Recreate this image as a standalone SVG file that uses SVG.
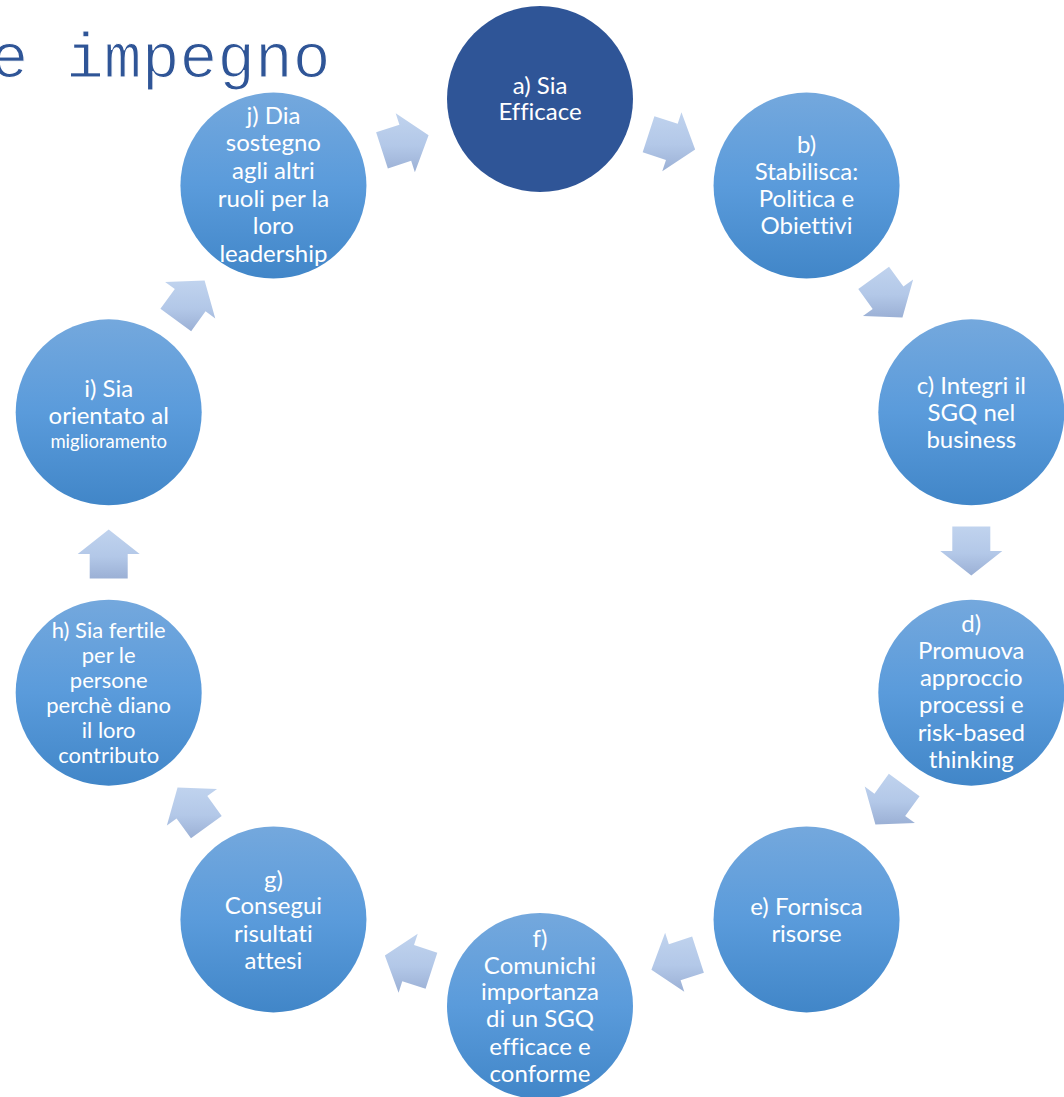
<svg xmlns="http://www.w3.org/2000/svg" width="1064" height="1097" viewBox="0 0 1064 1097">
  <defs>
    <linearGradient id="nodeFill" x1="0" y1="0" x2="0" y2="1">
      <stop offset="0" stop-color="#74a8dd"/>
      <stop offset="0.5" stop-color="#5a9bdb"/>
      <stop offset="1" stop-color="#4186c8"/>
    </linearGradient>
    <linearGradient id="arrowFill" x1="0" y1="0" x2="0" y2="1">
      <stop offset="0" stop-color="#c0d3ee"/>
      <stop offset="0.55" stop-color="#b3c8e8"/>
      <stop offset="1" stop-color="#9bb0d5"/>
    </linearGradient>
  </defs>
  <style>
    .node { fill: url(#nodeFill); }
    .node.first { fill: #2f5597; }
    .label { font-family: "Lato", "Open Sans", sans-serif; font-size: 24px; fill: #ffffff; text-anchor: middle; font-variant-ligatures: none; font-feature-settings: "liga" 0; }
    .label.small { font-size: 22px; }
    .label.tiny { font-size: 18.5px; }
    .arrow { fill: url(#arrowFill); stroke: none; }
    .title { font-family: "Liberation Mono", "Courier New", monospace; font-size: 63px; fill: #2f5597; stroke: #ffffff; stroke-width: 1.2px; }
  </style>

  <rect width="1064" height="1097" fill="#ffffff"/>

  <text class="title" x="-9.6" y="77">e impegno</text>

  <!-- cycle arrows, each placed on the chord between two neighbouring circles -->
  <g id="connectors">
    <polygon class="arrow" points="654.42,116.21 677.72,123.78 681.43,112.36 695.15,149.42 662.27,171.33 665.98,159.92 642.68,152.35"/>
    <polygon class="arrow" points="889.02,266.79 903.42,286.61 913.13,279.56 902.45,317.60 862.97,316.00 872.68,308.94 858.28,289.12"/>
    <polygon class="arrow" points="990.3,526.5 990.3,551 1002.3,551 971.3,575.5 940.3,551 952.3,551 952.3,526.5"/>
    <polygon class="arrow" points="919.58,796.14 905.18,815.96 914.89,823.02 875.41,824.62 864.73,786.58 874.44,793.63 888.84,773.81"/>
    <polygon class="arrow" points="703.88,972.73 680.58,980.30 684.29,991.71 651.41,969.80 665.13,932.74 668.84,944.16 692.14,936.59"/>
    <polygon class="arrow" points="425.58,988.80 402.28,981.22 398.57,992.64 384.85,955.58 417.73,933.67 414.02,945.08 437.32,952.66"/>
    <polygon class="arrow" points="190.98,838.21 176.58,818.39 166.87,825.45 177.55,787.40 217.03,789.00 207.32,796.06 221.72,815.88"/>
    <polygon class="arrow" points="89.7,578.5 89.7,554 77.7,554 108.7,529.5 139.7,554 127.7,554 127.7,578.5"/>
    <polygon class="arrow" points="160.42,308.86 174.82,289.04 165.11,281.98 204.59,280.38 215.27,318.43 205.56,311.37 191.16,331.19"/>
    <polygon class="arrow" points="376.12,132.28 399.42,124.70 395.71,113.29 428.59,135.20 414.87,172.26 411.16,160.84 387.86,168.41"/>
  </g>

  <g id="node-a">
    <circle class="node first" cx="540" cy="99" r="93"/>
    <text class="label" x="540"><tspan x="540" y="93.5">a) Sia</tspan><tspan x="540" y="120">Efficace</tspan></text>
  </g>

  <g id="node-b">
    <circle class="node" cx="806.56" cy="185.61" r="93"/>
    <text class="label"><tspan x="806.5" y="153">b)</tspan><tspan x="806.5" y="180">Stabilisca:</tspan><tspan x="806.5" y="207">Politica e</tspan><tspan x="806.5" y="234">Obiettivi</tspan></text>
  </g>

  <g id="node-c">
    <circle class="node" cx="971.31" cy="412.36" r="93"/>
    <text class="label"><tspan x="971.3" y="393.5">c) Integri il</tspan><tspan x="971.3" y="420.5">SGQ nel</tspan><tspan x="971.3" y="447.5">business</tspan></text>
  </g>

  <g id="node-d">
    <circle class="node" cx="971.31" cy="692.64" r="93"/>
    <text class="label"><tspan x="971.3" y="632">d)</tspan><tspan x="971.3" y="659">Promuova</tspan><tspan x="971.3" y="686">approccio</tspan><tspan x="971.3" y="713">processi e</tspan><tspan x="971.3" y="740.5">risk-based</tspan><tspan x="971.3" y="767.5">thinking</tspan></text>
  </g>

  <g id="node-e">
    <circle class="node" cx="806.56" cy="919.39" r="93"/>
    <text class="label"><tspan x="806.5" y="914.5">e) Fornisca</tspan><tspan x="806.5" y="941.5">risorse</tspan></text>
  </g>

  <g id="node-f">
    <circle class="node" cx="540" cy="1006" r="93"/>
    <text class="label"><tspan x="540" y="946.5">f)</tspan><tspan x="540" y="973.5">Comunichi</tspan><tspan x="540" y="1000">importanza</tspan><tspan x="540" y="1027">di un SGQ</tspan><tspan x="540" y="1054.5">efficace e</tspan><tspan x="540" y="1082">conforme</tspan></text>
  </g>

  <g id="node-g">
    <circle class="node" cx="273.44" cy="919.39" r="93"/>
    <text class="label"><tspan x="273.4" y="887.5">g)</tspan><tspan x="273.4" y="914">Consegui</tspan><tspan x="273.4" y="941.5">risultati</tspan><tspan x="273.4" y="968.5">attesi</tspan></text>
  </g>

  <g id="node-h">
    <circle class="node" cx="108.69" cy="692.64" r="93"/>
    <text class="label small"><tspan x="108.7" y="638">h) Sia fertile</tspan><tspan x="108.7" y="663">per le</tspan><tspan x="108.7" y="688">persone</tspan><tspan x="108.7" y="713">perchè diano</tspan><tspan x="108.7" y="738">il loro</tspan><tspan x="108.7" y="763">contributo</tspan></text>
  </g>

  <g id="node-i">
    <circle class="node" cx="108.69" cy="412.36" r="93"/>
    <text class="label"><tspan x="108.7" y="397">i) Sia</tspan><tspan x="108.7" y="424">orientato al</tspan></text>
    <text class="label tiny" x="108.7" y="447.5">miglioramento</text>
  </g>

  <g id="node-j">
    <circle class="node" cx="273.44" cy="185.61" r="93"/>
    <text class="label"><tspan x="273.4" y="124">j) Dia</tspan><tspan x="273.4" y="151">sostegno</tspan><tspan x="273.4" y="179">agli altri</tspan><tspan x="273.4" y="206.5">ruoli per la</tspan><tspan x="273.4" y="234">loro</tspan><tspan x="273.4" y="261.5">leadership</tspan></text>
  </g>
</svg>
